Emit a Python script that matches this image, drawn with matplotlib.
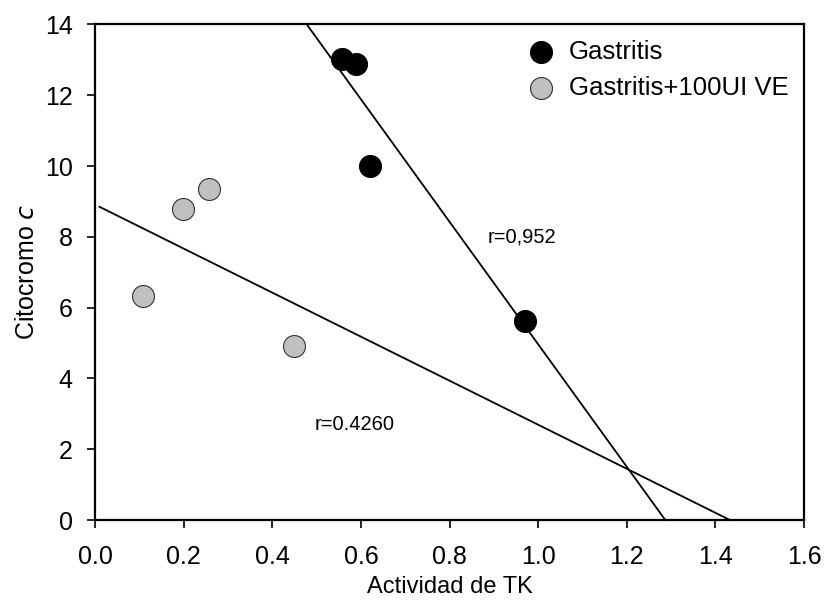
import matplotlib
matplotlib.use("Agg")
import matplotlib.pyplot as plt

plt.rcParams['font.family'] = ['Liberation Sans', 'DejaVu Sans']

# Data
gastritis_x = [0.557, 0.590, 0.620, 0.970]
gastritis_y = [13.02, 12.88, 9.99, 5.63]
ve_x = [0.108, 0.198, 0.257, 0.448]
ve_y = [6.33, 8.78, 9.36, 4.93]

# Regression lines (endpoints)
gastritis_fit_x = [0.478, 1.287]
gastritis_fit_y = [14.0, 0.0]
ve_fit_x = [0.010, 1.433]
ve_fit_y = [8.85, 0.0]

x_ticks = [0.0, 0.2, 0.4, 0.6, 0.8, 1.0, 1.2, 1.4, 1.6]
x_ticklabels = ['0.0', '0.2', '0.4', '0.6', '0.8', '1.0', '1.2', '1.4', '1.6']
y_ticks = [0, 2, 4, 6, 8, 10, 12, 14]

labels = ['Gastritis', 'Gastritis+100UI VE']
annot1 = 'r=0,952'
annot2 = 'r=0.4260'

fig = plt.figure(figsize=(8.25, 6.03), dpi=100)
ax = fig.add_axes([0.1152, 0.1376, 0.9745 - 0.1152, 0.9594 - 0.1376])

ax.plot(gastritis_fit_x, gastritis_fit_y, color='black', lw=1.3, zorder=2, clip_on=False)
ax.plot(ve_fit_x, ve_fit_y, color='black', lw=1.3, zorder=2, clip_on=False)

ax.scatter(gastritis_x, gastritis_y, s=250, c='black', edgecolors='black',
           linewidths=0.8, zorder=3, label=labels[0])
ax.scatter(ve_x, ve_y, s=250, c='#c0c0c0', edgecolors='#333333',
           linewidths=0.8, zorder=3, label=labels[1])

ax.set_xlim(0, 1.6)
ax.set_ylim(0, 14)
ax.set_xticks(x_ticks)
ax.set_xticklabels(x_ticklabels)
ax.set_yticks(y_ticks)
ax.tick_params(axis='both', direction='out', length=6, width=1.2, labelsize=18,
               colors='black')
ax.tick_params(axis='y', pad=10)
ax.tick_params(axis='x', pad=12)
for sp in ax.spines.values():
    sp.set_linewidth(1.6)

ax.set_xlabel('Actividad de TK', fontsize=17, labelpad=5)
ax.set_ylabel('Citocromo $\\mathit{c}$', fontsize=18, labelpad=4)

ax.text(0.886, 8.0, annot1, fontsize=14.5, ha='left', va='center')
ax.text(0.495, 2.7, annot2, fontsize=14.5, ha='left', va='center')

leg = ax.legend(loc='upper right', frameon=False, fontsize=18.5,
                handletextpad=0.1, borderaxespad=0.0, labelspacing=0.48,
                scatterpoints=1, markerscale=1.0, borderpad=0.6)

fig.savefig('out.png', dpi=100)
